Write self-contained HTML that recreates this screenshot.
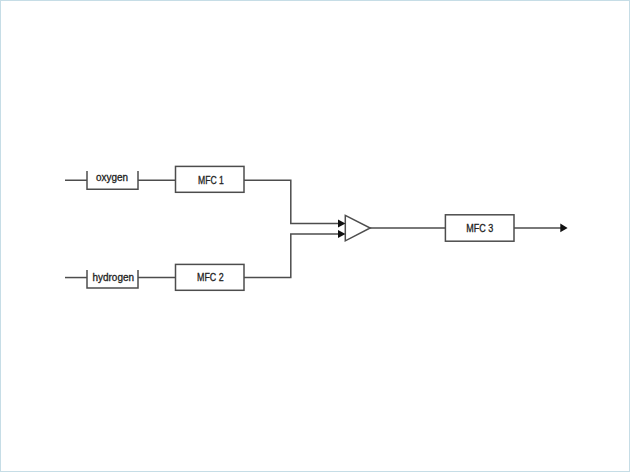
<!DOCTYPE html>
<html><head><meta charset="utf-8">
<style>
html,body{margin:0;padding:0;background:#fff;}
body{width:630px;height:472px;overflow:hidden;position:relative;}
#bd{position:absolute;left:0;top:0;width:628px;height:470px;border:1px solid #c6dde6;}
svg{position:absolute;left:0;top:0;display:block;}
</style></head>
<body>
<div id="bd"></div>
<svg width="630" height="472" viewBox="0 0 630 472" xmlns="http://www.w3.org/2000/svg">
<defs>
<g id="L">
<path d="M65 180.25H87"/>
<path d="M87 171V189.35H138V171"/>
<path d="M138 180.25H175.5"/>
<rect x="175.5" y="166.4" width="68.5" height="25.9"/>
<path d="M244 180.25H290.8V223.5H338"/>
<path d="M65 277.55H87"/>
<path d="M87 270V288H138V270"/>
<path d="M138 277.55H175.5"/>
<rect x="175.5" y="264.4" width="68.5" height="25.9"/>
<path d="M244 277.55H290.8V234H338"/>
<path d="M345.3 215.4L370.2 228L345.3 240.8Z"/>
<path d="M370 227.9H445.4"/>
<rect x="445.4" y="214.8" width="68.6" height="26.4"/>
<path d="M514 227.9H561"/>
</g>
<g id="A">
<path d="M338 219.5L345.5 223.5L338 227.5Z"/>
<path d="M338 230L345.5 234L338 238Z"/>
<path d="M560.3 223.6L567.6 227.9L560.3 232.2Z"/>
</g>
</defs>
<use href="#L" fill="none" stroke="#4d4d4d" stroke-width="1.5"/>
<use href="#A" fill="#111" stroke="none"/>
<g font-family="Liberation Sans, sans-serif" font-size="10" fill="#222" stroke="#222" stroke-width="0.3">
<text x="96" y="181.3" textLength="32" lengthAdjust="spacingAndGlyphs">oxygen</text>
<text x="92.5" y="280.5" textLength="41.5" lengthAdjust="spacingAndGlyphs">hydrogen</text>
<text x="198" y="184.3" textLength="25.8" lengthAdjust="spacingAndGlyphs">MFC 1</text>
<text x="197" y="281.3" textLength="26.6" lengthAdjust="spacingAndGlyphs">MFC 2</text>
<text x="466.2" y="231.6" textLength="27" lengthAdjust="spacingAndGlyphs">MFC 3</text>
</g>
</svg>
</body></html>
